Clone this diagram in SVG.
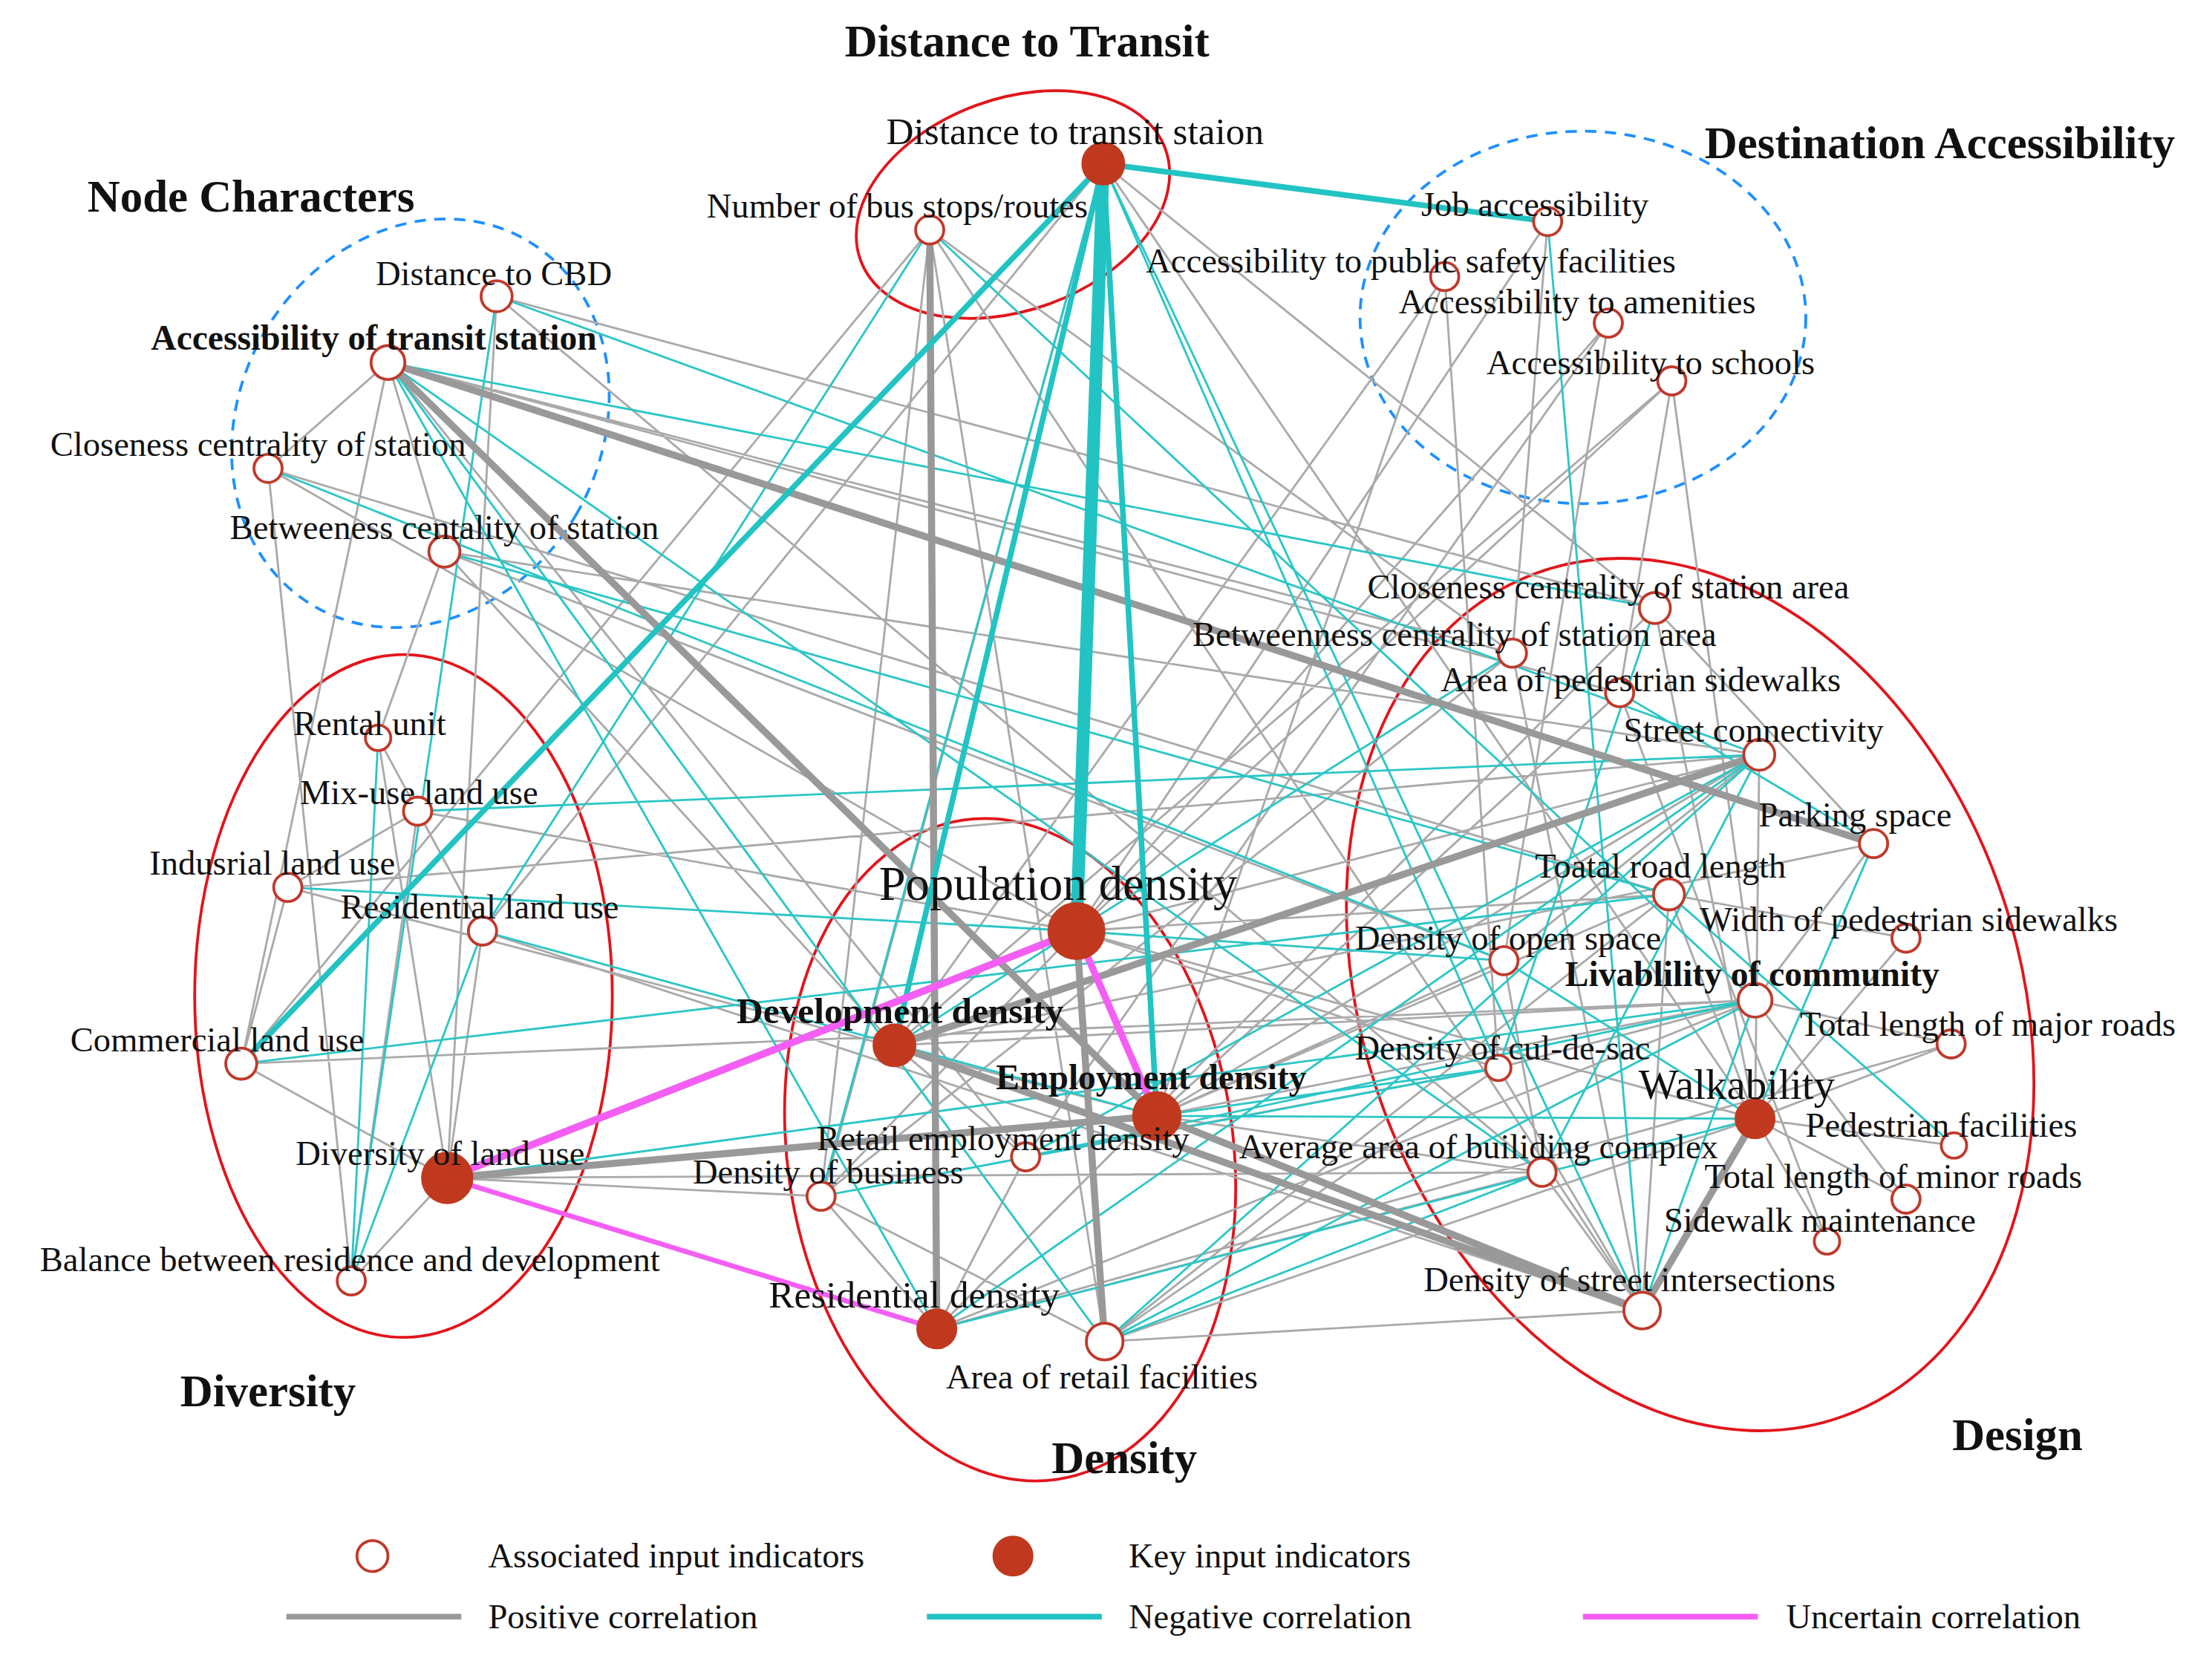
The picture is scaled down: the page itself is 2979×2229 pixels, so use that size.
<svg xmlns="http://www.w3.org/2000/svg" width="2979" height="2229" viewBox="0 0 2979 2229">
<style>
text{font-family:"Liberation Serif","Times New Roman",serif;fill:#111;font-size:24.5px}
.g{font-size:32px;font-weight:bold}
.big{font-size:34px}
.mid{font-size:27px}
.p{stroke:#aaa;stroke-width:1.5;fill:none}
.n{stroke:#2cc6c6;stroke-width:1.5;fill:none}
.P{stroke:#999;fill:none}
.N{stroke:#22c3c3;fill:none}
.u{stroke:#f55ef5;fill:none}
.o{fill:#fff;stroke:#c0392b;stroke-width:2}
.k{fill:#c0391f;stroke:#c0391f}
.re{fill:none;stroke:#e3141b;stroke-width:2}
.be{fill:none;stroke:#1e90ff;stroke-width:2;stroke-dasharray:8 6}
</style>
<rect width="2979" height="2229" fill="#fff"/>
<g transform="scale(1.9)">
<g id="groups">
<ellipse class="re" cx="718" cy="145" rx="115" ry="75" transform="rotate(-20 718 145)"/>
<ellipse class="be" cx="1122" cy="225" rx="158" ry="132"/>
<ellipse class="be" cx="298" cy="300" rx="128" ry="150" transform="rotate(30 298 300)"/>
<ellipse class="re" cx="286" cy="706" rx="148" ry="242"/>
<ellipse class="re" cx="716" cy="815" rx="158" ry="236" transform="rotate(-8 716 815)"/>
<ellipse class="re" cx="1198" cy="705" rx="232" ry="318" transform="rotate(-20 1198 705)"/>
</g>
<g id="connectors">
<path class="p" d="M659 163L664 942M659 163L783 951M659 163L1072 463M659 163L582 848M659 163L171 754M659 163L1164 929M782 116L1173 431M782 116L342 660M782 116L583 848M782 116L1244 793M352 210L1173 431M352 210L1093 831M352 210L317 835M275 257L190 332M275 257L315 391M275 257L171 754M275 257L820 791M275 257L1072 463M275 257L1148 491M275 257L727 820M190 332L249 908M190 332L763 660M190 332L1183 634M315 391L268 523M315 391L1247 535M315 391L634 741M315 391L1066 681M268 523L342 660M268 523L317 835M296 575L204 629M296 575L763 660M296 575L342 660M296 575L249 908M204 629L171 754M204 629L1247 535M204 629L820 791M342 660L317 835M342 660L1164 929M171 754L1244 709M171 754L317 835M317 835L249 908M317 835L582 848M317 835L1093 831M763 660L1097 157M763 660L1140 229M763 660L1185 270M763 660L1247 535M763 660L1183 634M763 660L1062 757M763 660L1244 793M634 741L1024 196M634 741L1185 270M634 741L1164 929M634 741L1328 598M634 741L1244 709M820 791L1024 196M820 791L1148 491M820 791L1247 535M820 791L1183 634M820 791L1244 709M820 791L1066 681M820 791L1093 831M727 820L1140 229M727 820L1062 757M727 820L664 942M582 848L783 951M582 848L1072 463M582 848L664 942M664 942L1173 431M664 942L1244 709M664 942L1093 831M664 942L1383 740M783 951L1244 793M783 951L1062 757M783 951L1183 634M783 951L1164 929M1097 157L1072 463M1140 229L1066 681M1185 270L1244 709M1024 196L1062 757M1185 270L1148 491M1173 431L1328 598M1173 431L1244 793M1072 463L1164 929M1148 491L1295 880M1247 535L1244 793M1247 535L1066 681M1183 634L1351 665M1183 634L1164 929M1244 709L1351 850M1244 709L1383 740M1244 709L1062 757M1066 681L1093 831M1062 757L1164 929M1093 831L1164 929M1244 793L1385 812M1244 793L1295 880M1244 793L1351 850M1244 793L1164 929M1183 634L1244 793M1383 740L1244 793M1328 598L1244 709M1351 665L1244 793M634 741L727 820M763 660L582 848"/>
<path class="n" d="M659 163L342 660M659 163L1244 709M782 116L1062 757M782 116L582 848M782 116L1164 929M352 210L1247 535M275 257L1173 431M275 257L664 942M275 257L783 951M275 257L1093 831M352 210L249 908M190 332L1066 681M315 391L1183 634M296 575L1247 535M204 629L763 660M342 660L820 791M342 660L249 908M171 754L1183 634M317 835L1244 709M763 660L1066 681M634 741L1072 463M820 791L1244 793M820 791L1062 757M664 942L1244 793M664 942L1247 535M783 951L1093 831M783 951L1247 535M582 848L1062 757M727 820L1244 709M1097 157L1164 929M1173 431L1062 757M1148 491L1328 598M1247 535L1093 831M1183 634L1385 812M1244 709L1164 929M1328 598L1244 793M1066 681L1244 793M268 523L249 908M727 820L1247 535M783 951L1244 709"/>
<path class="P" stroke-width="5" d="M275 257L1328 598M275 257L820 791M659 163L664 942M317 835L820 791M634 741L1164 929M820 791L1164 929M763 660L783 951M1244 793L1164 929M317 835L763 660M634 741L1247 535"/>
<path class="N" stroke-width="4" d="M782 116L634 741M782 116L820 791M782 116L171 754M782 116L1097 157"/>
<path class="N" stroke-width="9" d="M782 116L763 660"/>
<path class="u" stroke-width="5" d="M317 835L763 660M763 660L820 791"/>
<path class="u" stroke-width="3.5" d="M317 835L664 942"/>
</g>
<g id="nodes">
<circle class="o" cx="659" cy="163" r="10"/><circle class="o" cx="1097" cy="157" r="10"/><circle class="o" cx="1024" cy="196" r="10"/><circle class="o" cx="1140" cy="229" r="10"/><circle class="o" cx="1185" cy="270" r="10"/><circle class="o" cx="352" cy="210" r="11"/><circle class="o" cx="275" cy="257" r="12"/><circle class="o" cx="190" cy="332" r="10"/><circle class="o" cx="315" cy="391" r="11"/><circle class="o" cx="268" cy="523" r="9"/><circle class="o" cx="296" cy="575" r="10"/><circle class="o" cx="204" cy="629" r="10"/><circle class="o" cx="342" cy="660" r="10"/><circle class="o" cx="171" cy="754" r="11"/><circle class="o" cx="249" cy="908" r="10"/><circle class="o" cx="727" cy="820" r="10"/><circle class="o" cx="582" cy="848" r="10"/><circle class="o" cx="783" cy="951" r="13"/><circle class="o" cx="1173" cy="431" r="11"/><circle class="o" cx="1072" cy="463" r="10"/><circle class="o" cx="1148" cy="491" r="10"/><circle class="o" cx="1247" cy="535" r="11"/><circle class="o" cx="1328" cy="598" r="10"/><circle class="o" cx="1183" cy="634" r="11"/><circle class="o" cx="1351" cy="665" r="10"/><circle class="o" cx="1066" cy="681" r="10"/><circle class="o" cx="1244" cy="709" r="12"/><circle class="o" cx="1383" cy="740" r="10"/><circle class="o" cx="1062" cy="757" r="9"/><circle class="o" cx="1385" cy="812" r="9"/><circle class="o" cx="1093" cy="831" r="10"/><circle class="o" cx="1351" cy="850" r="10"/><circle class="o" cx="1295" cy="880" r="9"/><circle class="o" cx="1164" cy="929" r="13"/>
<circle class="k" cx="782" cy="116" r="15"/><circle class="k" cx="317" cy="835" r="18"/><circle class="k" cx="763" cy="660" r="20"/><circle class="k" cx="634" cy="741" r="15"/><circle class="k" cx="820" cy="791" r="17"/><circle class="k" cx="664" cy="942" r="14"/><circle class="k" cx="1244" cy="793" r="14"/>
</g>
<g id="labels">
<text x="728" y="40" class="g" text-anchor="middle">Distance to Transit</text>
<text x="1375" y="112" class="g" text-anchor="middle">Destination Accessibility</text>
<text x="178" y="150" class="g" text-anchor="middle">Node Characters</text>
<text x="190" y="997" class="g" text-anchor="middle">Diversity</text>
<text x="797" y="1044" class="g" text-anchor="middle">Density</text>
<text x="1430" y="1028" class="g" text-anchor="middle">Design</text>
<text x="762" y="102" text-anchor="middle" class="mid">Distance to transit staion</text>
<text x="636" y="154" text-anchor="middle">Number of bus stops/routes</text>
<text x="1088" y="153" text-anchor="middle">Job accessibility</text>
<text x="1000" y="193" text-anchor="middle">Accessibility to public safety facilities</text>
<text x="1118" y="222" text-anchor="middle">Accessibility to amenities</text>
<text x="1170" y="265" text-anchor="middle">Accessibility to schools</text>
<text x="350" y="202" text-anchor="middle">Distance to CBD</text>
<text x="265" y="248" text-anchor="middle" class="mid" style="font-size:25px;font-weight:bold">Accessibility of transit station</text>
<text x="183" y="323" text-anchor="middle">Closeness centrality of station</text>
<text x="315" y="382" text-anchor="middle">Betweeness centality of station</text>
<text x="262" y="521" text-anchor="middle">Rental unit</text>
<text x="297" y="570" text-anchor="middle">Mix-use land use</text>
<text x="193" y="620" text-anchor="middle">Indusrial land use</text>
<text x="340" y="651" text-anchor="middle">Residential land use</text>
<text x="154" y="745" text-anchor="middle">Commercial land use</text>
<text x="312" y="826" text-anchor="middle">Diversity of land use</text>
<text x="248" y="901" text-anchor="middle">Balance between residence and development</text>
<text x="750" y="638" text-anchor="middle" class="big">Population density</text>
<text x="638" y="725" text-anchor="middle" class="mid" style="font-weight:bold;font-size:26px">Development density</text>
<text x="816" y="772" text-anchor="middle" class="mid" style="font-size:25px;font-weight:bold">Employment density</text>
<text x="711" y="815" text-anchor="middle">Retail employment density</text>
<text x="587" y="839" text-anchor="middle">Density of business</text>
<text x="648" y="927" text-anchor="middle" class="mid">Residential density</text>
<text x="781" y="984" text-anchor="middle">Area of retail facilities</text>
<text x="1140" y="424" text-anchor="middle">Closeness centrality of station area</text>
<text x="1031" y="458" text-anchor="middle">Betweenness centrality of  station area</text>
<text x="1163" y="490" text-anchor="middle">Area of pedestrian sidewalks</text>
<text x="1243" y="526" text-anchor="middle">Street connectivity</text>
<text x="1315" y="586" text-anchor="middle">Parking space</text>
<text x="1177" y="622" text-anchor="middle">Toatal road length</text>
<text x="1353" y="660" text-anchor="middle">Width of pedestrian sidewalks</text>
<text x="1069" y="673" text-anchor="middle">Density of open space</text>
<text x="1242" y="699" text-anchor="middle" class="mid" style="font-size:25px;font-weight:bold">Livablility of community</text>
<text x="1409" y="734" text-anchor="middle">Total length of  major roads</text>
<text x="1065" y="751" text-anchor="middle">Density of cul-de-sac</text>
<text x="1231" y="779" text-anchor="middle" class="big" style="font-size:30px">Walkability</text>
<text x="1376" y="806" text-anchor="middle">Pedestrian facilities</text>
<text x="1048" y="821" text-anchor="middle">Average area of builiding complex</text>
<text x="1342" y="842" text-anchor="middle">Total length of  minor roads</text>
<text x="1290" y="873" text-anchor="middle">Sidewalk maintenance</text>
<text x="1155" y="915" text-anchor="middle">Density of street intersections</text>
</g>
<g id="legend">
<circle class="o" cx="264" cy="1103" r="11"/>
<text x="346" y="1111">Associated input indicators</text>
<circle class="k" cx="718" cy="1103" r="14"/>
<text x="800" y="1111">Key input indicators</text>
<line x1="203" y1="1146" x2="327" y2="1146" stroke="#999" stroke-width="4"/>
<text x="346" y="1154">Positive correlation</text>
<line x1="657" y1="1146" x2="781" y2="1146" stroke="#22c3c3" stroke-width="4"/>
<text x="800" y="1154">Negative correlation</text>
<line x1="1122" y1="1146" x2="1246" y2="1146" stroke="#f55ef5" stroke-width="4"/>
<text x="1266" y="1154">Uncertain correlation</text>
</g>
</g>
</svg>
